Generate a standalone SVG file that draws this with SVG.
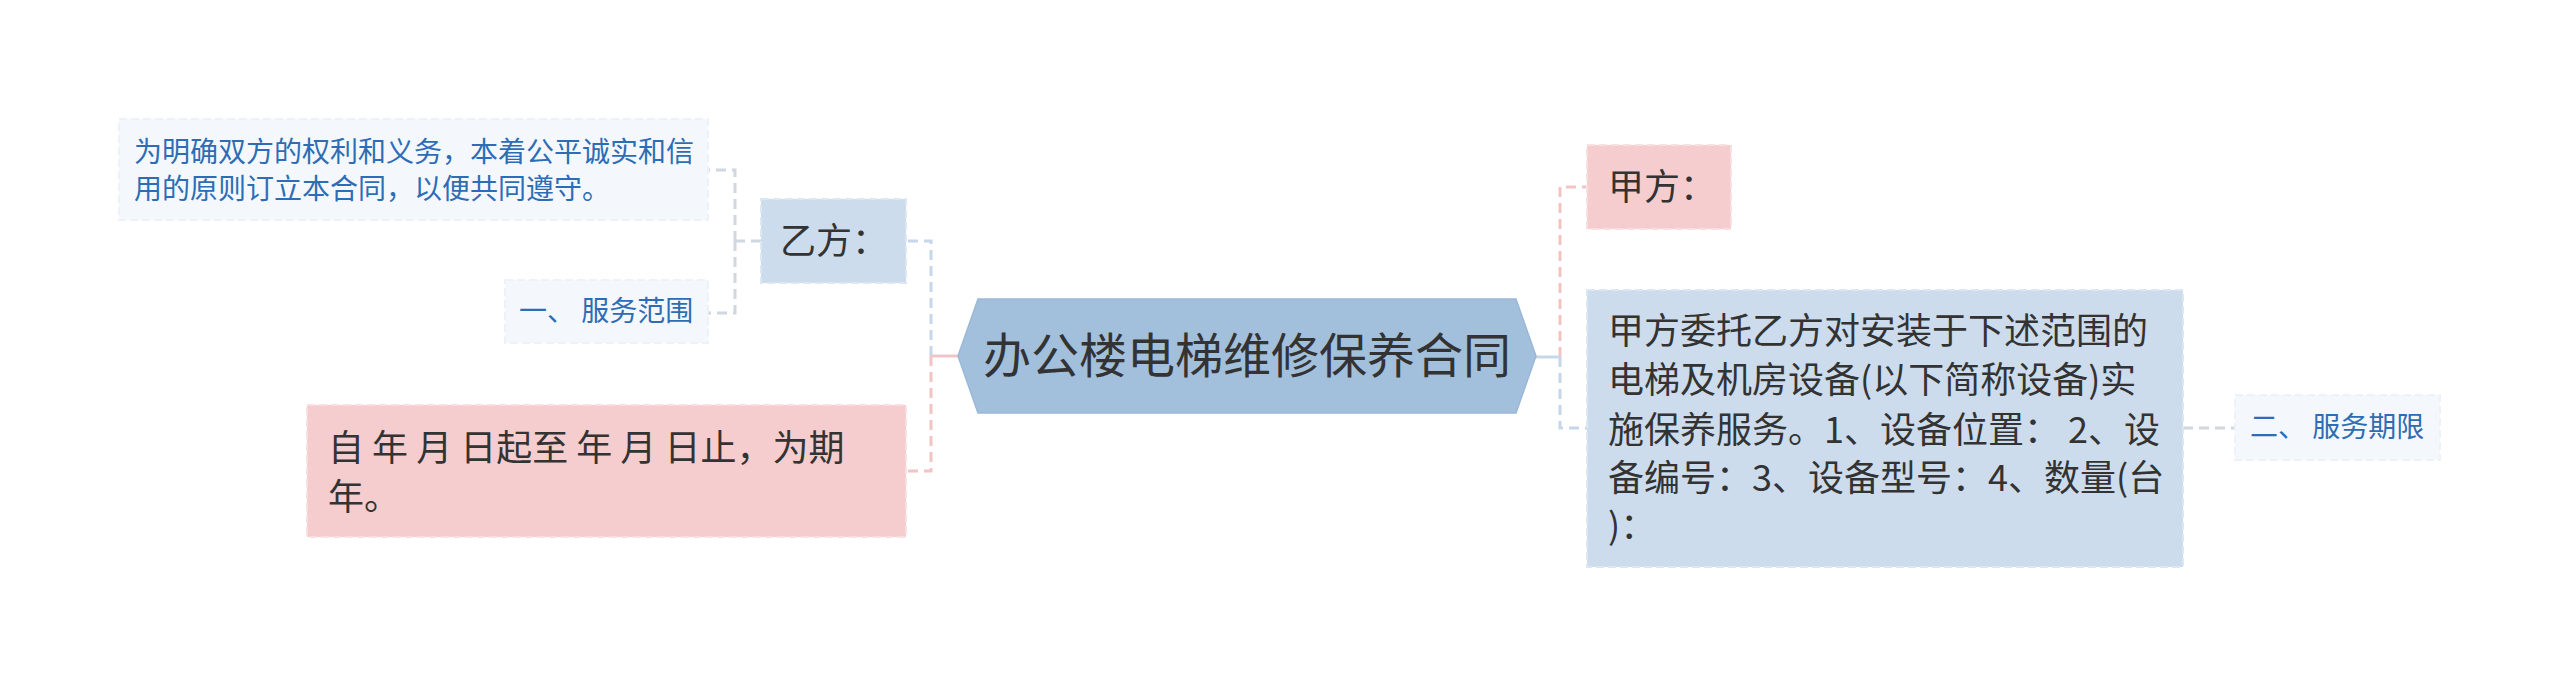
<svg xmlns="http://www.w3.org/2000/svg" width="2560" height="687" viewBox="0 0 2560 687">
<style>
text{font-family:"Noto Sans CJK SC","Noto Sans",sans-serif;}
.t-main{font-size:48px;fill:#333333;}
.t-l1{font-size:36px;fill:#333333;}
.t-leaf{font-size:28px;fill:#2d6db5;}
.n-blue{fill:#ccdcec;stroke:#dce7f3;stroke-width:2;stroke-dasharray:8 4;}
.n-pink{fill:#f5cdce;stroke:#f9dfe0;stroke-width:2;stroke-dasharray:8 4;}
.n-leaf{fill:#f4f8fd;stroke:#edf2f9;stroke-width:2;stroke-dasharray:8 4;}
.c{fill:none;stroke-width:3;stroke-dasharray:10 6;}
.c-blue{stroke:#c6d7e9;}
.c-pink{stroke:#f3c4c6;}
.c-gray{stroke:#cfd8e1;}
.solid{stroke-dasharray:none;}
</style>
<rect width="2560" height="687" fill="#ffffff"/>
<g id="connectors">
<path class="c c-blue" d="M931,356 V241 H906"/>
<path class="c c-pink" d="M931,356 V471 H906"/>
<path class="c c-pink solid" d="M931,356 H958"/>
<path class="c c-gray" d="M761,241 H735"/>
<path class="c c-gray" d="M735,241 V170 H708"/>
<path class="c c-gray" d="M735,241 V313 H708"/>
<path class="c c-pink" d="M1560,357 V187 H1587"/>
<path class="c c-blue" d="M1560,357 V428 H1587"/>
<path class="c c-blue solid" d="M1535,357 H1560"/>
<path class="c c-gray" d="M2183,428 H2235"/>
</g>
<g id="center">
<polygon points="958,356 978,299 1516,299 1536,356 1516,413 978,413" fill="#a2bfdc" stroke="#9ab8d8" stroke-width="1.5"/>
<text class="t-main" x="1247" y="373" text-anchor="middle">办公楼电梯维修保养合同</text>
</g>
<g id="node-yifang">
<rect class="n-blue" x="761" y="199" width="145" height="84"/>
<text class="t-l1" x="780" y="254">乙方：</text>
</g>
<g id="node-purpose">
<rect class="n-leaf" x="119" y="119" width="589" height="101"/>
<text class="t-leaf"><tspan x="134" y="162">为明确双方的权利和义务，本着公平诚实和信</tspan><tspan x="134" y="199">用的原则订立本合同，以便共同遵守。</tspan></text>
</g>
<g id="node-scope">
<rect class="n-leaf" x="505" y="280" width="203" height="63"/>
<text class="t-leaf" x="519" y="321" xml:space="preserve">一、 服务范围</text>
</g>
<g id="node-period">
<rect class="n-pink" x="307" y="405" width="599" height="132"/>
<text class="t-l1"><tspan x="328" y="461" xml:space="preserve">自 年 月 日起至 年 月 日止，为期</tspan><tspan x="328" y="510">年。</tspan></text>
</g>
<g id="node-jiafang">
<rect class="n-pink" x="1587" y="145" width="144" height="84"/>
<text class="t-l1" x="1608" y="200">甲方：</text>
</g>
<g id="node-entrust">
<rect class="n-blue" x="1587" y="290" width="596" height="277"/>
<text class="t-l1"><tspan x="1608" y="344">甲方委托乙方对安装于下述范围的</tspan><tspan x="1608" y="393">电梯及机房设备(以下简称设备)实</tspan><tspan x="1608" y="443" xml:space="preserve">施保养服务。1、设备位置： 2、设</tspan><tspan x="1608" y="491">备编号：3、设备型号：4、数量(台</tspan><tspan x="1608" y="539">)：</tspan></text>
</g>
<g id="node-term">
<rect class="n-leaf" x="2235" y="395" width="205" height="65"/>
<text class="t-leaf" x="2250" y="437" xml:space="preserve">二、 服务期限</text>
</g>
</svg>
